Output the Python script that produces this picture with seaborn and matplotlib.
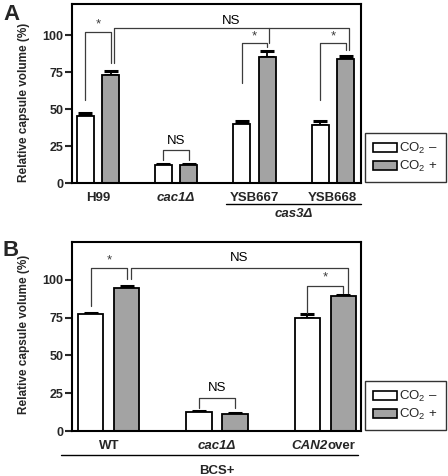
import numpy as np
import pandas as pd
import matplotlib
matplotlib.use("Agg")
import matplotlib.pyplot as plt
import seaborn as sns
from matplotlib.patches import Patch

sns.set_style("white")
plt.rcParams['font.family'] = ['Liberation Sans', 'DejaVu Sans']
plt.rcParams['mathtext.fontset'] = 'custom'
plt.rcParams['mathtext.rm'] = 'Liberation Sans'

# ---- data ----
conditions = ["CO$_2$ \u2013", "CO$_2$ +"]
strains_a = ["H99", "cac1\u0394", "YSB667", "YSB668"]
minus_a = [45.0, 12.0, 40.0, 39.0]
plus_a = [73.0, 12.0, 85.0, 83.5]
minus_err_a = [2.0, 0.6, 1.6, 3.0]
plus_err_a = [3.0, 0.6, 4.5, 2.5]

strains_b = ["WT", "cac1\u0394", "CAN2over"]
minus_b = [77.5, 12.5, 75.0]
plus_b = [94.5, 11.5, 89.0]
minus_err_b = [0.8, 0.5, 2.5]
plus_err_b = [1.5, 0.5, 1.0]

GREY = "#a3a3a3"
LINE = "#3c3c3c"
FS = 9.5


def make_df(strains, minus, plus):
    return pd.DataFrame({
        "strain": strains * 2,
        "cond": [conditions[0]] * len(strains) + [conditions[1]] * len(strains),
        "value": minus + plus,
    })


def draw_bars(ax, df, strains, minus_err, plus_err, width, gap):
    sns.barplot(data=df, x="strain", y="value", hue="cond", order=strains,
                hue_order=conditions, palette=["white", GREY], errorbar=None,
                width=width, gap=gap, edgecolor="black", linewidth=1.3,
                legend=False, ax=ax, zorder=2)
    bars = sorted(ax.patches, key=lambda p: p.get_x())
    errs = []
    for m, p in zip(minus_err, plus_err):
        errs += [m, p]
    xs = np.array([b.get_x() + b.get_width() / 2 for b in bars])
    hs = np.array([b.get_height() for b in bars])
    ax.errorbar(xs, hs, yerr=[np.zeros_like(hs), np.array(errs)], fmt="none",
                ecolor="black", elinewidth=1.3, capsize=5, capthick=2.2, zorder=1)
    return xs


def bracket(ax, x1, x2, top, y1, y2, text=None, ty=None, size=9.5, color=LINE):
    ax.plot([x1, x1, x2, x2], [y1, top, top, y2], color=color, lw=0.9,
            clip_on=False, zorder=3)
    if text:
        ax.text((x1 + x2) / 2, ty, text, ha="center", va="center",
                fontsize=size, color=color if text == "*" else "black")


def style_axis(ax, ymax, xlim, ylabel_y):
    ax.set_ylim(0, ymax)
    ax.set_xlim(*xlim)
    ax.set_yticks([0, 25, 50, 75, 100])
    for s in ax.spines.values():
        s.set_visible(True)
        s.set_linewidth(1.5)
        s.set_color("black")
    ax.tick_params(axis="y", left=True, length=5, width=1.5, pad=1,
                   labelsize=9)
    ax.tick_params(axis="x", bottom=False, pad=3, labelsize=FS)
    for lab in ax.get_yticklabels() + ax.get_xticklabels():
        lab.set_fontweight("bold")
    ax.set_xlabel("")
    ax.set_ylabel("Relative capsule volume (%)", fontsize=8.5, fontweight="bold")
    ax.yaxis.set_label_coords(-0.145, ylabel_y)


fig = plt.figure(figsize=(4.48, 4.76), dpi=100)
ax_a = fig.add_axes([72 / 448, 1 - 183 / 476, 289 / 448, 179 / 476])
ax_b = fig.add_axes([72 / 448, 1 - 431 / 476, 289 / 448, 189 / 476])

# ---- panel A ----
xa = draw_bars(ax_a, make_df(strains_a, minus_a, plus_a), strains_a,
               minus_err_a, plus_err_a, width=0.65, gap=0.33)
style_axis(ax_a, 121, (-0.33, 3.36), 0.45)
ax_a.get_xticklabels()[1].set_style("italic")
d = 0.04
bracket(ax_a, xa[0], xa[1], 102, 56, 81, "*", 107)
bracket(ax_a, xa[1] + d, xa[7] + d, 105, 81, 90, "NS", 109.5)
ax_a.plot([xa[5] + d / 2] * 2, [105, 94.6], color=LINE, lw=0.9, zorder=3)
bracket(ax_a, xa[4], xa[5], 94.6, 67.5, 92, "*", 99)
bracket(ax_a, xa[6], xa[7], 94.6, 56, 90, "*", 99)
bracket(ax_a, xa[2], xa[3], 22, 15.5, 15.5, "NS", 28.5)

tr = ax_a.get_xaxis_transform()
ax_a.plot([1.64, 3.36], [-0.117, -0.117], color="black", lw=1.0,
          transform=tr, clip_on=False)
ax_a.text(2.5, -0.175, "cas3\u0394", transform=tr, ha="center", va="center",
          fontsize=FS, fontweight="bold", style="italic")

# ---- panel B ----
xb = draw_bars(ax_b, make_df(strains_b, minus_b, plus_b), strains_b,
               minus_err_b, plus_err_b, width=0.667, gap=0.3)
style_axis(ax_b, 125, (-0.34, 2.33), 0.51)
ax_b.get_xticklabels()[1].set_style("italic")
# CAN2over: italic gene name + upright suffix
ax_b.get_xticklabels()[2].set_visible(False)
tr = ax_b.get_xaxis_transform()
t1 = ax_b.text(2 + 0.02, -0.05, "CAN2", transform=tr, ha="right", va="top",
               fontsize=FS, fontweight="bold", style="italic")
ax_b.annotate("over", xy=(1, 0), xycoords=t1, ha="left", va="bottom",
              fontsize=FS, fontweight="bold")
bracket(ax_b, xb[0], xb[1], 107.5, 83, 100.5, "*", 112.5)
bracket(ax_b, xb[1] + d, xb[5] + d, 107.5, 100.5, 91.5, "NS", 114.5)
bracket(ax_b, xb[4], xb[5], 96, 78, 91, "*", 101.5)
bracket(ax_b, xb[2], xb[3], 22, 15, 15, "NS", 28.5)

ax_b.plot([-0.44, 2.30], [-0.127, -0.127], color="black", lw=1.0,
          transform=tr, clip_on=False)
ax_b.text(1.0, -0.227, "BCS+", transform=tr, ha="center", va="baseline",
          fontsize=FS, fontweight="bold")

# ---- legends ----
handles = [Patch(facecolor="white", edgecolor="black", lw=1.2),
           Patch(facecolor=GREY, edgecolor="black", lw=1.2)]
for ybot in (182, 430):
    leg = fig.legend(handles, conditions, loc="lower left",
                     bbox_to_anchor=(365 / 448, 1 - ybot / 476),
                     frameon=True, fancybox=False, fontsize=FS,
                     handlelength=1.8, handleheight=0.65, handletextpad=0.2,
                     borderpad=0.6, labelspacing=0.2, borderaxespad=0)
    leg.get_frame().set_edgecolor("black")
    leg.get_frame().set_linewidth(1.0)

fig.text(3 / 448, 1 - 4 / 476, "A", fontsize=16, fontweight="bold", va="top")
fig.text(3 / 448, 1 - 240 / 476, "B", fontsize=16, fontweight="bold", va="top")

fig.savefig("out.png", dpi=100)
